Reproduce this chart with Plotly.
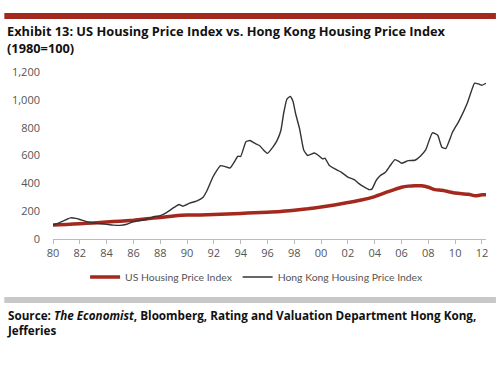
import plotly.graph_objects as go

# ---- data ----
hk_years = [1980.0, 1980.5, 1981.0, 1981.3, 1981.7, 1982.0, 1982.5, 1983.0, 1983.5, 1984.0,
            1984.5, 1985.0, 1985.5, 1986.0, 1986.5, 1987.0, 1987.5, 1988.0, 1988.5, 1989.0,
            1989.4, 1989.7, 1990.2, 1990.7, 1991.2, 1991.5, 1991.9, 1992.2, 1992.5, 1992.8,
            1993.2, 1993.5, 1993.8, 1994.0, 1994.4, 1994.7, 1995.0, 1995.4, 1995.7, 1996.0,
            1996.4, 1996.7, 1997.0, 1997.2, 1997.45, 1997.7, 1997.9, 1998.1, 1998.4, 1998.7,
            1999.0, 1999.5, 1999.8, 2000.1, 2000.3, 2000.6, 2001.0, 2001.5, 2002.0, 2002.5,
            2002.8, 2003.2, 2003.6, 2003.8, 2004.1, 2004.4, 2004.8, 2005.1, 2005.5, 2005.8,
            2006.0, 2006.5, 2007.0, 2007.4, 2007.8, 2008.3, 2008.7, 2009.0, 2009.3, 2009.8,
            2010.3, 2010.9, 2011.2, 2011.45, 2011.8, 2012.0, 2012.3]
hk_values = [100, 118, 140, 152, 148, 140, 125, 115, 110, 105,
             100, 98, 106, 124, 133, 142, 160, 168, 192, 225,
             248, 236, 258, 272, 300, 350, 440, 490, 527, 522,
             510, 550, 595, 593, 700, 708, 690, 672, 640, 615,
             660, 705, 780, 900, 1005, 1024, 990, 900, 790, 640,
             600, 618, 600, 576, 580, 530, 505, 480, 445, 425,
             400, 375, 355, 360, 420, 455, 480, 520, 570, 558,
             544, 563, 566, 595, 640, 763, 745, 660, 650, 767,
             851, 975, 1060, 1120, 1112, 1105, 1119]

us_years = [1980, 1981, 1982, 1983, 1984, 1985, 1986, 1987, 1988, 1989,
            1990, 1991, 1992, 1993, 1994, 1995, 1996, 1997, 1998, 1999,
            2000, 2001, 2002, 2003, 2004, 2005, 2006, 2006.5, 2007, 2007.5,
            2008, 2008.5, 2009, 2009.5, 2010, 2010.5, 2011, 2011.5, 2012, 2012.3]
us_values = [100, 105, 110, 115, 122, 128, 135, 145, 155, 165,
             172, 172, 176, 180, 184, 188, 193, 198, 207, 217,
             230, 245, 262, 280, 305, 340, 372, 380, 383, 382,
             372, 355, 350, 340, 330, 325, 322, 310, 318, 318]

x_tickvals = list(range(1980, 2013, 2))
x_ticktext = ["80", "82", "84", "86", "88", "90", "92", "94", "96", "98",
              "00", "02", "04", "06", "08", "10", "12"]
y_tickvals = [0, 200, 400, 600, 800, 1000, 1200]
y_ticktext = ["0", "200", "400", "600", "800", "1,000", "1,200"]

title_text = ("Exhibit 13: US Housing Price Index vs. Hong Kong Housing Price Index"
              "<br>(1980=100)")
source_text = ("Source: <i>The Economist</i>, Bloomberg, Rating and Valuation Department Hong Kong,"
               "<br>Jefferies")

# ---- layout helpers ----
W, H = 500, 375
L, R, T, B = 52, 12, 72, 136
PW, PH = W - L - R, H - T - B


def px(x):
    return (x - L) / PW


def py(y):
    return (H - B - y) / PH


FONT = "Open Sans"
RED = "#A3281D"

fig = go.Figure()
fig.add_trace(go.Scatter(x=us_years, y=us_values, mode="lines", name="US Housing Price Index",
                         line=dict(color=RED, width=3.5, shape="spline", smoothing=0.5)))
fig.add_trace(go.Scatter(x=hk_years, y=hk_values, mode="lines", name="Hong Kong Housing Price Index",
                         line=dict(color="#333333", width=1.4, shape="spline", smoothing=0.4)))

fig.update_layout(
    width=W, height=H,
    margin=dict(l=L, r=R, t=T, b=B),
    paper_bgcolor="white", plot_bgcolor="white",
    font=dict(family=FONT, size=11, color="#555555"),
    showlegend=True,
    legend=dict(orientation="h", x=px(257), xanchor="center", y=py(277), yanchor="middle",
                font=dict(family="Lato", size=10.4, color="#555555"), itemwidth=30,
                bgcolor="rgba(0,0,0,0)"),
    xaxis=dict(range=[1980, 2012.3], tickvals=x_tickvals, ticktext=x_ticktext,
               showgrid=False, zeroline=False, showline=True, linecolor="#bbbbbb", linewidth=1,
               ticks="outside", ticklen=4, tickcolor="#bbbbbb", tickfont=dict(size=11, color="#555555")),
    yaxis=dict(range=[0, 1200], tickvals=y_tickvals, ticktext=y_ticktext,
               showgrid=False, zeroline=False, showline=False, ticks="",
               ticklabelstandoff=12, tickfont=dict(size=11, color="#555555")),
    shapes=[
        dict(type="rect", xref="paper", yref="paper", x0=px(3), x1=px(498), y0=py(19), y1=py(13),
             fillcolor=RED, line=dict(width=0), layer="above"),
        dict(type="rect", xref="paper", yref="paper", x0=px(3), x1=px(498), y0=py(303), y1=py(297),
             fillcolor="#c8c8c8", line=dict(width=0), layer="above"),
    ],
    annotations=[
        dict(text="<b>" + title_text + "</b>", xref="paper", yref="paper", x=px(4), y=py(39),
             xanchor="left", yanchor="middle", align="left", showarrow=False,
             font=dict(family=FONT, size=12.8, color="#111111")),
        dict(text="<b>" + source_text + "</b>", xref="paper", yref="paper", x=px(4), y=py(322),
             xanchor="left", yanchor="middle", align="left", showarrow=False,
             font=dict(family=FONT, size=11.7, color="#111111")),
    ],
)

fig.write_html("out.html", config={"displayModeBar": False},
               post_script="document.body.style.margin='0';")
